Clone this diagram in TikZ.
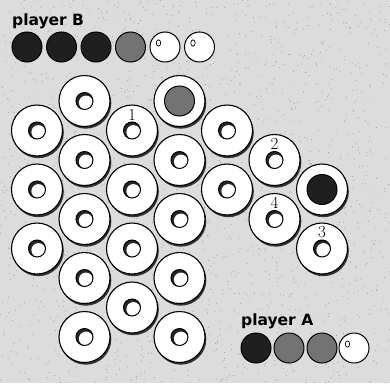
\documentclass[tikz,border=0pt]{standalone}
\usepackage{fontspec}
\newfontfamily\playerfont{DejaVu Sans}
\usetikzlibrary{shadows}
\definecolor{bgc}{HTML}{DCDCDC}
\tikzset{
  ring/.style={circle, draw=black, line width=1.1pt, fill=white, minimum size=51pt, inner sep=0pt,
    general shadow={fill=black!80, shadow xshift=1.3pt, shadow yshift=-2.2pt},
    path picture={
      \coordinate (hc) at (path picture bounding box.center);
      \begin{scope}
        \clip (hc) circle[radius=8.5pt];
        \fill[black!85] (hc) circle[radius=8.5pt];
        \fill[white] ([shift={(1.4pt,-1.6pt)}]hc) circle[radius=7pt];
      \end{scope}
      \draw[line width=1pt] (hc) circle[radius=8.5pt];
    }},
  marble/.style={circle, draw=black, line width=1pt, minimum size=30pt, inner sep=0pt},
  blackm/.style={marble, fill=black!88},
  greym/.style={marble, fill=black!55},
  whitem/.style={marble, fill=white,
    path picture={
      \draw[line width=0.7pt] ([xshift=-6.5pt,yshift=4pt]path picture bounding box.center)
        ellipse[x radius=2.2pt, y radius=3.2pt];
    }},
  num/.style={font=\fontsize{17}{17}\selectfont, inner sep=0pt},
  ptext/.style={font=\playerfont\bfseries\fontsize{15.5}{15.5}\selectfont, inner sep=0pt, anchor=base west},
}
\begin{document}
\begin{tikzpicture}[x=1pt,y=-1pt]
\fill[bgc] (0,0) rectangle (390,383);
\useasboundingbox (0,0) rectangle (390,383);
\pgfmathsetseed{7}
\foreach \i in {1,...,1800}{
  \fill[black!40] ({rnd*390},{rnd*383}) circle[radius=0.5pt];
}
% board rings: column c, row k
\foreach \c/\k in {0/1,0/3,0/5,
                   1/0,1/2,1/4,1/6,1/8,
                   2/1,2/3,2/5,2/7,
                   3/0,3/2,3/4,3/6,3/8,
                   4/1,4/3,
                   5/2,5/4,
                   6/3,6/5}{
  \node[ring] (r-\c-\k) at ({37+47.5*\c},{101+29.5*\k}) {};
}
% marbles on the board
\node[greym] (bg) at (r-3-0.center) {};
\node[blackm] (bb) at (r-6-3.center) {};
% numbers
\node[num] (n1) at ([yshift=16pt]r-2-1.center) {1};
\node[num] (n2) at ([yshift=16pt]r-5-2.center) {2};
\node[num] (n4) at ([yshift=16pt]r-5-4.center) {4};
\node[num] (n3) at ([yshift=16pt]r-6-5.center) {3};
% player B
\node[ptext] (pB) at (12,25) {player B};
\node[blackm] (b1) at (27,47) {};
\node[blackm] (b2) at (61.5,47) {};
\node[blackm] (b3) at (96,47) {};
\node[greym] (b4) at (130.5,47) {};
\node[whitem] (b5) at (165,47) {};
\node[whitem] (b6) at (199.5,47) {};
% player A
\node[ptext] (pA) at (241,325) {player A};
\node[blackm] (a1) at (256,348) {};
\node[greym] (a2) at (289,348) {};
\node[greym] (a3) at (322,348) {};
\node[whitem] (a4) at (354,348) {};
\end{tikzpicture}
\end{document}
